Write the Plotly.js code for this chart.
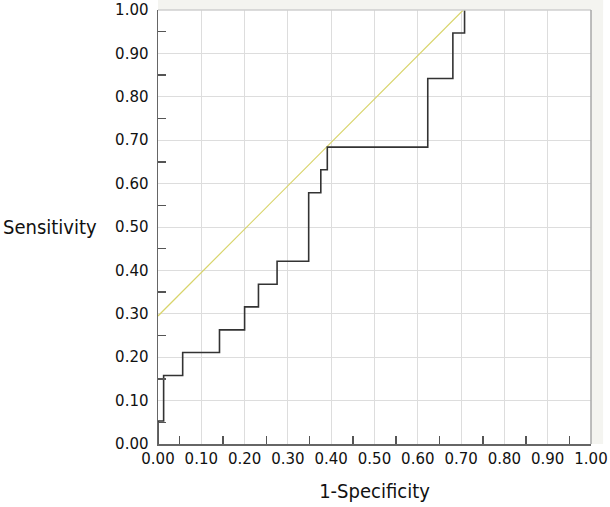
<!DOCTYPE html>
<html>
<head>
<meta charset="utf-8">
<script src="https://cdn.plot.ly/plotly-3.0.1.min.js"></script>
<style>
  html, body { margin: 0; padding: 0; background: #ffffff; }
  #chart { width: 610px; height: 507px; }
</style>
</head>
<body>
<div id="chart"></div>
<script>
// ROC curve corner points (1-specificity, sensitivity)
var fpr = [0, 0, 0.013, 0.057, 0.142, 0.200, 0.232, 0.275, 0.348, 0.376, 0.391, 0.623, 0.681, 0.708];
var tpr = [0, 0.053, 0.158, 0.211, 0.263, 0.316, 0.368, 0.421, 0.579, 0.632, 0.684, 0.842, 0.947, 1.0];

// reference (yellow) line
var refX = [0, 0.705];
var refY = [0.295, 1.0];

var tickVals = [0, 0.1, 0.2, 0.3, 0.4, 0.5, 0.6, 0.7, 0.8, 0.9, 1.0];
var tickText = ["0.00", "0.10", "0.20", "0.30", "0.40", "0.50", "0.60", "0.70", "0.80", "0.90", "1.00"];

var tickFont = { family: "DejaVu Sans, Verdana, sans-serif", size: 15, color: "#111111" };
var titleFont = { family: "DejaVu Sans Condensed, DejaVu Sans, sans-serif", size: 20, color: "#111111" };

var refTrace = {
  x: refX,
  y: refY,
  type: "scatter",
  mode: "lines",
  line: { color: "#d8d46a", width: 1.2 },
  hoverinfo: "skip"
};

var rocTrace = {
  x: fpr,
  y: tpr,
  type: "scatter",
  mode: "lines",
  line: { color: "#333333", width: 1.6, shape: "hv" }
};

function axisBase() {
  return {
    range: [0, 1],
    tickmode: "array",
    tickvals: tickVals,
    ticktext: tickText,
    ticks: "",
    showgrid: true,
    gridcolor: "#dddddd",
    gridwidth: 1,
    zeroline: false,
    showline: true,
    linecolor: "#666666",
    linewidth: 1.5,
    tickfont: tickFont,
    fixedrange: true,
    minor: {
      tick0: 0.05,
      dtick: 0.1,
      ticks: "inside",
      ticklen: 8,
      tickwidth: 1.5,
      tickcolor: "#555555",
      showgrid: false
    }
  };
}

var xaxis = axisBase();
xaxis.title = { text: "1-Specificity", font: titleFont, standoff: 17 };
var yaxis = axisBase();
yaxis.ticklabelstandoff = 5;

var layout = {
  width: 610,
  height: 507,
  margin: { l: 158, r: 19, t: 10, b: 63 },
  paper_bgcolor: "#ffffff",
  plot_bgcolor: "#ffffff",
  showlegend: false,
  xaxis: xaxis,
  yaxis: yaxis,
  shapes: [
    // light frame band above and right of the plot
    { type: "rect", xref: "paper", yref: "paper", x0: 0, x1: 1.028, y0: 1, y1: 1.03,
      fillcolor: "#f4f4f0", line: { width: 0 }, layer: "below" },
    { type: "rect", xref: "paper", yref: "paper", x0: 1, x1: 1.028, y0: 0, y1: 1.03,
      fillcolor: "#f4f4f0", line: { width: 0 }, layer: "below" },
    // top and right border
    { type: "line", xref: "paper", yref: "paper", x0: 0, x1: 1, y0: 1, y1: 1,
      line: { color: "#cfcfcf", width: 1.5 } },
    { type: "line", xref: "paper", yref: "paper", x0: 1, x1: 1, y0: 0, y1: 1,
      line: { color: "#a8a8a8", width: 1.5 } }
  ],
  annotations: [
    { text: "Sensitivity", xref: "paper", yref: "paper", x: -0.362, y: 0.5,
      xanchor: "left", yanchor: "middle", showarrow: false, font: titleFont }
  ]
};

Plotly.newPlot("chart", [refTrace, rocTrace], layout, { displayModeBar: false, staticPlot: true });
</script>
</body>
</html>
